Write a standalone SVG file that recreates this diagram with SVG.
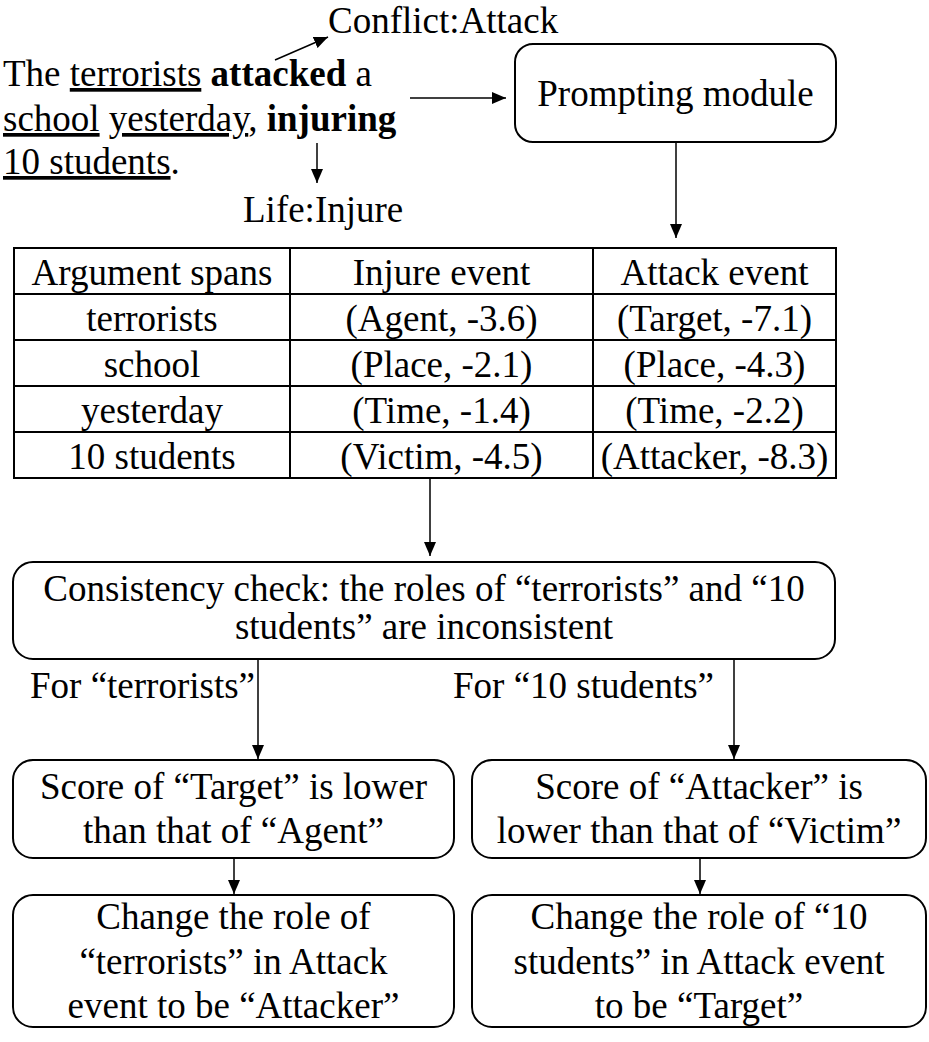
<svg xmlns="http://www.w3.org/2000/svg" width="929" height="1042" viewBox="0 0 929 1042">
<style>
text{font-family:"Liberation Serif","Times New Roman",serif;font-size:37px;fill:#000}
.c{text-anchor:middle}
.u{text-decoration:underline}
.b{font-weight:bold}
.box{fill:#fff;stroke:#000;stroke-width:2}
.grid{stroke:#000;stroke-width:2;fill:none}
.conn line{stroke:#000;stroke-width:1.5;marker-end:url(#ah)}
</style>
<defs>
<marker id="ah" markerUnits="userSpaceOnUse" markerWidth="14" markerHeight="12" refX="14" refY="6" orient="auto">
<path d="M0,0 L14,6 L0,12 z" fill="#000"/>
</marker>
</defs>
<rect width="929" height="1042" fill="#fff"/>

<g id="sentence">
<text x="3" y="86">The <tspan class="u">terrorists</tspan> <tspan class="b">attacked</tspan> a</text>
<text x="3" y="131"><tspan class="u">school</tspan> <tspan class="u">yesterday</tspan>, <tspan class="b">injuring</tspan></text>
<text x="3" y="174"><tspan class="u">10 students</tspan>.</text>
</g>
<g id="label-attack"><text x="328" y="33">Conflict:Attack</text></g>
<g id="label-injure"><text x="243" y="222">Life:Injure</text></g>

<g id="prompting">
<rect class="box" x="515" y="44" width="321" height="98" rx="18"/>
<text class="c" x="675.5" y="106">Prompting module</text>
</g>

<g id="table">
<rect class="grid" x="14" y="248" width="822" height="230"/>
<line class="grid" x1="14" y1="294" x2="836" y2="294"/>
<line class="grid" x1="14" y1="340" x2="836" y2="340"/>
<line class="grid" x1="14" y1="386" x2="836" y2="386"/>
<line class="grid" x1="14" y1="432" x2="836" y2="432"/>
<line class="grid" x1="290" y1="248" x2="290" y2="478"/>
<line class="grid" x1="593" y1="248" x2="593" y2="478"/>
<text class="c" x="152" y="285">Argument spans</text>
<text class="c" x="441.5" y="285">Injure event</text>
<text class="c" x="714.5" y="285">Attack event</text>
<text class="c" x="152" y="331">terrorists</text>
<text class="c" x="441.5" y="331">(Agent, -3.6)</text>
<text class="c" x="714.5" y="331">(Target, -7.1)</text>
<text class="c" x="152" y="377">school</text>
<text class="c" x="441.5" y="377">(Place, -2.1)</text>
<text class="c" x="714.5" y="377">(Place, -4.3)</text>
<text class="c" x="152" y="423">yesterday</text>
<text class="c" x="441.5" y="423">(Time, -1.4)</text>
<text class="c" x="714.5" y="423">(Time, -2.2)</text>
<text class="c" x="152" y="469">10 students</text>
<text class="c" x="441.5" y="469">(Victim, -4.5)</text>
<text class="c" x="714.5" y="469">(Attacker, -8.3)</text>
</g>

<g id="consistency">
<rect class="box" x="13" y="562" width="822" height="97" rx="20"/>
<text class="c" x="424" y="601">Consistency check: the roles of “terrorists” and “10</text>
<text class="c" x="424" y="639">students” are inconsistent</text>
</g>
<g id="label-left"><text x="30" y="698">For “terrorists”</text></g>
<g id="label-right"><text x="453" y="698">For “10 students”</text></g>

<g id="score-left">
<rect class="box" x="13" y="760" width="441" height="98" rx="20"/>
<text class="c" x="233.5" y="799">Score of “Target” is lower</text>
<text class="c" x="233.5" y="843">than that of “Agent”</text>
</g>
<g id="score-right">
<rect class="box" x="472" y="760" width="454" height="98" rx="20"/>
<text class="c" x="699" y="799">Score of “Attacker” is</text>
<text class="c" x="699" y="843">lower than that of “Victim”</text>
</g>
<g id="change-left">
<rect class="box" x="13" y="895" width="441" height="132" rx="20"/>
<text class="c" x="233.5" y="929">Change the role of</text>
<text class="c" x="233.5" y="974">“terrorists” in Attack</text>
<text class="c" x="233.5" y="1018">event to be “Attacker”</text>
</g>
<g id="change-right">
<rect class="box" x="472" y="895" width="454" height="132" rx="20"/>
<text class="c" x="699" y="929">Change the role of “10</text>
<text class="c" x="699" y="974">students” in Attack event</text>
<text class="c" x="699" y="1018">to be “Target”</text>
</g>

<g id="connectors" class="conn">
<line x1="275" y1="60" x2="328" y2="37"/>
<line x1="317" y1="143" x2="317" y2="183"/>
<line x1="410" y1="98" x2="506" y2="98"/>
<line x1="676" y1="142" x2="676" y2="238"/>
<line x1="430" y1="478" x2="430" y2="556"/>
<line x1="258" y1="660" x2="258" y2="759"/>
<line x1="734" y1="660" x2="734" y2="759"/>
<line x1="234" y1="858" x2="234" y2="894"/>
<line x1="700" y1="858" x2="700" y2="894"/>
</g>
</svg>
